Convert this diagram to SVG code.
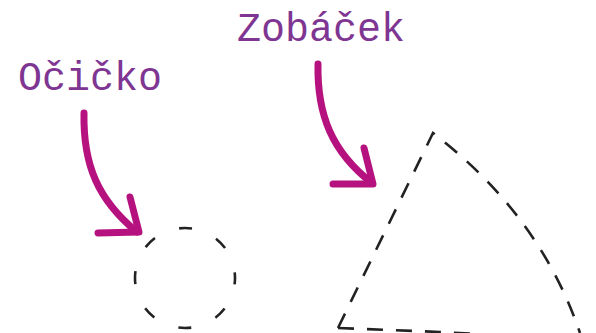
<svg xmlns="http://www.w3.org/2000/svg" width="596" height="333" viewBox="0 0 596 333">
<style>
.lbl{font-family:"Liberation Mono","Courier New",monospace;fill:#7f3592;font-size:40px}
.arr{fill:none;stroke:#b5127f;stroke-width:7;stroke-linecap:round;stroke-linejoin:round}
.dash{fill:none;stroke:#222;stroke-width:2.6;stroke-dasharray:16 13}
</style>
<rect width="596" height="333" fill="#fff"/>
<g id="eye">
<circle class="dash" cx="185" cy="278" r="50" style="stroke-dasharray:13 26.3;stroke-dashoffset:6.5"/>
</g>
<g id="beak">
<path class="dash" d="M338,328 L433,133 Q540,215 580,333" />
<path class="dash" d="M338,328 L440,332 L590,340" />
</g>
<g id="label-eye"><text class="lbl" x="18" y="90">Očičko</text></g>
<g id="label-beak"><text class="lbl" x="237" y="41">Zobáček</text></g>
<g id="connectors">
<path class="arr" d="M84,113 C83,165 98,200 137,232"/>
<path class="arr" d="M98,233 L139,232 L130,197"/>
<path class="arr" d="M318,64 C317,115 332,152 372,183"/>
<path class="arr" d="M333,184 L373,184 L364,148"/>
</g>
</svg>
